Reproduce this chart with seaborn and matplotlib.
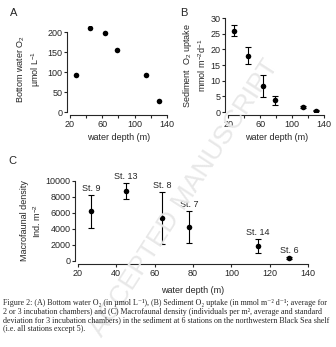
import matplotlib
matplotlib.use("Agg")
import matplotlib.pyplot as plt
import seaborn as sns
import pandas as pd
from matplotlib.ticker import MultipleLocator

sns.set_style("ticks")
plt.rcParams['font.family'] = ['Liberation Sans', 'DejaVu Sans']
plt.rcParams['mathtext.fontset'] = 'custom'
plt.rcParams['mathtext.rm'] = 'Liberation Sans'
plt.rcParams['mathtext.it'] = 'Liberation Sans:italic'

# Data
depth = [27, 45, 64, 78, 114, 130]
o2_bottom = [92, 210, 197, 155, 93, 28]
o2_uptake = [26, 18, 8.3, 3.8, 1.6, 0.5]
o2_uptake_err = [1.8, 2.8, 3.4, 1.4, 0.4, 0.3]
stations = ["St. 9", "St. 13", "St. 8", "St. 7", "St. 14", "St. 6"]
density = [6200, 8750, 5400, 4250, 1900, 400]
density_err = [2050, 950, 3250, 2050, 900, 100]

fig = plt.figure(figsize=(3.36, 3.47), dpi=100)
fs = 6.5

def style(ax):
    for s in ['top', 'right']:
        ax.spines[s].set_visible(False)
    ax.spines['left'].set_position(('outward', 2))
    ax.spines['bottom'].set_position(('outward', 2))
    for s in ['left', 'bottom']:
        ax.spines[s].set_linewidth(0.8)
    ax.tick_params(labelsize=fs, width=0.8, length=2.5, pad=1)
    ax.tick_params(which='minor', width=0.8, length=2)

# Watermark
fig.text(0.55, 0.43, "ACCEPTED MANUSCRIPT", fontsize=19, color="#e8e8e8", rotation=57,
         ha='center', va='center', zorder=0)

# Panel A
axA = fig.add_axes([0.208, 0.677, 0.289, 0.248])
axA.patch.set_alpha(0)
dfA = pd.DataFrame({"depth": depth, "o2": o2_bottom})
sns.scatterplot(data=dfA, x="depth", y="o2", ax=axA, color="black", s=16, edgecolor="black", linewidth=0)
axA.set_xlim(20, 140)
axA.set_ylim(0, 215)
axA.spines['left'].set_bounds(0, 200)
axA.set_xticks([20, 60, 100, 140])
axA.xaxis.set_minor_locator(MultipleLocator(20))
axA.set_yticks([0, 50, 100, 150, 200])
style(axA)
axA.set_xlabel("water depth (m)", fontsize=fs, labelpad=3)
axA.set_ylabel("Bottom water O$_2$\nµmol L$^{-1}$", fontsize=fs, labelpad=3)

# Panel B
axB = fig.add_axes([0.679, 0.677, 0.286, 0.271])
axB.patch.set_alpha(0)
dfB = pd.DataFrame({"depth": depth, "uptake": o2_uptake})
axB.errorbar(depth, o2_uptake, yerr=o2_uptake_err, fmt='none', ecolor='black', elinewidth=0.8, capsize=2.5, capthick=0.8)
sns.scatterplot(data=dfB, x="depth", y="uptake", ax=axB, color="black", s=16, edgecolor="black", linewidth=0, zorder=3)
axB.set_xlim(20, 140)
axB.set_ylim(0, 30)
axB.set_xticks([20, 60, 100, 140])
axB.xaxis.set_minor_locator(MultipleLocator(20))
axB.set_yticks([0, 5, 10, 15, 20, 25, 30])
style(axB)
axB.set_xlabel("water depth (m)", fontsize=fs, labelpad=3)
axB.set_ylabel("Sediment  O$_2$ uptake\nmmol m$^{-2}$d$^{-1}$", fontsize=fs, labelpad=2)

# Panel C
axC = fig.add_axes([0.232, 0.248, 0.685, 0.2305])
axC.patch.set_alpha(0)
dfC = pd.DataFrame({"depth": depth, "density": density, "station": stations})
axC.errorbar(depth, density, yerr=density_err, fmt='none', ecolor='black', elinewidth=0.8, capsize=2.5, capthick=0.8)
sns.scatterplot(data=dfC, x="depth", y="density", ax=axC, color="black", s=16, edgecolor="black", linewidth=0, zorder=3)
for d, v, e, st in zip(depth, density, density_err, stations):
    axC.text(d, v + e + 250, st, ha='center', va='bottom', fontsize=fs)
axC.set_xlim(20, 140)
axC.set_ylim(0, 10000)
axC.set_xticks(range(20, 141, 20))
axC.set_yticks(range(0, 10001, 2000))
style(axC)
axC.set_xlabel("water depth (m)", fontsize=fs, labelpad=6)
axC.set_ylabel("Macrofaunal density\nInd. m$^{-2}$", fontsize=fs, labelpad=2)

# Panel letters
fig.text(0.03, 0.955, "A", fontsize=8)
fig.text(0.535, 0.955, "B", fontsize=8)
fig.text(0.025, 0.528, "C", fontsize=8)

caption_lines = [
    "Figure 2: (A) Bottom water O\u2082 (in µmol L\u207b\u00b9), (B) Sediment O\u2082 uptake (in mmol m\u207b\u00b2 d\u207b\u00b9; average for",
    "2 or 3 incubation chambers) and (C) Macrofaunal density (individuals per m\u00b2, average and standard",
    "deviation for 3 incubation chambers) in the sediment at 6 stations on the northwestern Black Sea shelf",
    "(i.e. all stations except 5).",
]
ys = [303, 312, 320, 329]
for line, y in zip(caption_lines, ys):
    fig.text(0.01, 1 - y / 347, line, fontsize=5.72, family=['Liberation Serif', 'DejaVu Serif'],
             va='center', ha='left')

fig.savefig("out.png", dpi=100)
